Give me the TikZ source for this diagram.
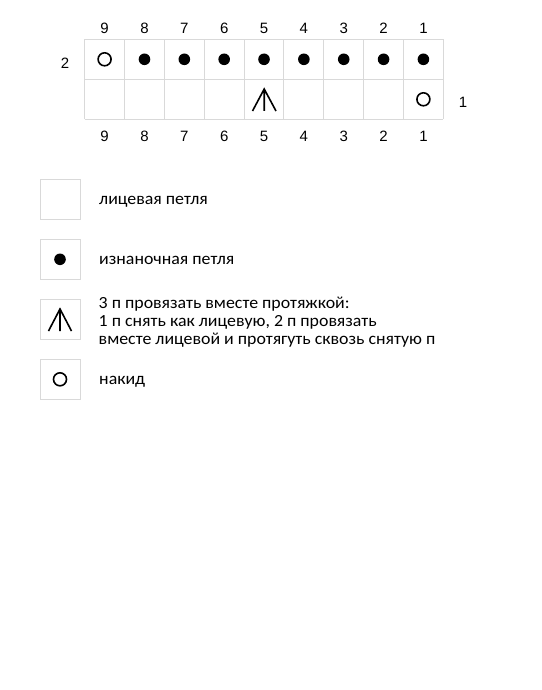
\documentclass[tikz,border=0pt]{standalone}
\usepackage{fontspec}
\setmainfont{Carlito}[FakeStretch=1.05]
\newfontfamily\numfont{Liberation Sans}
\begin{document}
\begin{tikzpicture}[x=1pt,y=-1pt,
  gridline/.style={draw=black!15,line width=1pt},
  purl/.style={fill=black},
  yarnover/.style={draw=black,line width=1.6pt},
  num/.style={font=\numfont\fontsize{15}{15}\selectfont,inner sep=0pt},
  legtext/.style={font=\fontsize{17}{18.3}\selectfont,align=left,inner sep=0pt},
  legbox/.style={draw=black!15,line width=1pt,minimum width=40pt,minimum height=40pt,inner sep=0pt}]
\useasboundingbox[fill=white] (0,0) rectangle (541,690);
% grid
\foreach \i in {0,...,9} {\draw[gridline] ({84.7+\i*39.85},39.3) -- ({84.7+\i*39.85},119.3);}
\foreach \j in {0,1,2} {\draw[gridline] (84.7,{39.3+\j*40}) -- (443.3,{39.3+\j*40});}
% numbers
\foreach \n in {1,...,9} {
  \node[num] (t\n) at ({84.7+(9.5-\n)*39.85},28) {\n};
  \node[num] (b\n) at ({84.7+(9.5-\n)*39.85},136) {\n};
}
\node[num] (r2) at (65,63) {2};
\node[num] (r1) at (463,102) {1};
% row 2
\draw[yarnover] (104.6,59.3) circle (6.5);
\foreach \n in {1,...,8} {\fill[purl] ({84.7+(9.5-\n)*39.85},59.3) circle (5.8);}
% row 1
\draw[yarnover] (423.4,99.3) circle (6.5);
\draw[line width=1.6pt] (252.5,111) -- (264.2,89) -- (276,111) (264.2,89) -- (264.2,111);
% legend
\node[legbox] (l1) at (60,199.3) {};
\node[legbox] (l2) at (60,259.3) {};
\node[legbox] (l3) at (60,319.3) {};
\node[legbox] (l4) at (60,379.3) {};
\fill[purl] (l2.center) circle (5.8);
\draw[yarnover] (l4.center) circle (6.5);
\draw[line width=1.6pt] (48.5,331) -- (60,309) -- (71.5,331) (60,309) -- (60,331);
\node[legtext,anchor=base west] (t1) at (99,204.3) {лицевая петля};
\node[legtext,anchor=base west] (t2) at (99,264.3) {изнаночная петля};
\node[legtext,anchor=west] (t3) at (98.5,322) {3 п провязать вместе протяжкой:\\1 п снять как лицевую, 2 п провязать\\вместе лицевой и протягуть сквозь снятую п};
\node[legtext,anchor=base west] (t4) at (99,384.3) {накид};
\end{tikzpicture}
\end{document}
